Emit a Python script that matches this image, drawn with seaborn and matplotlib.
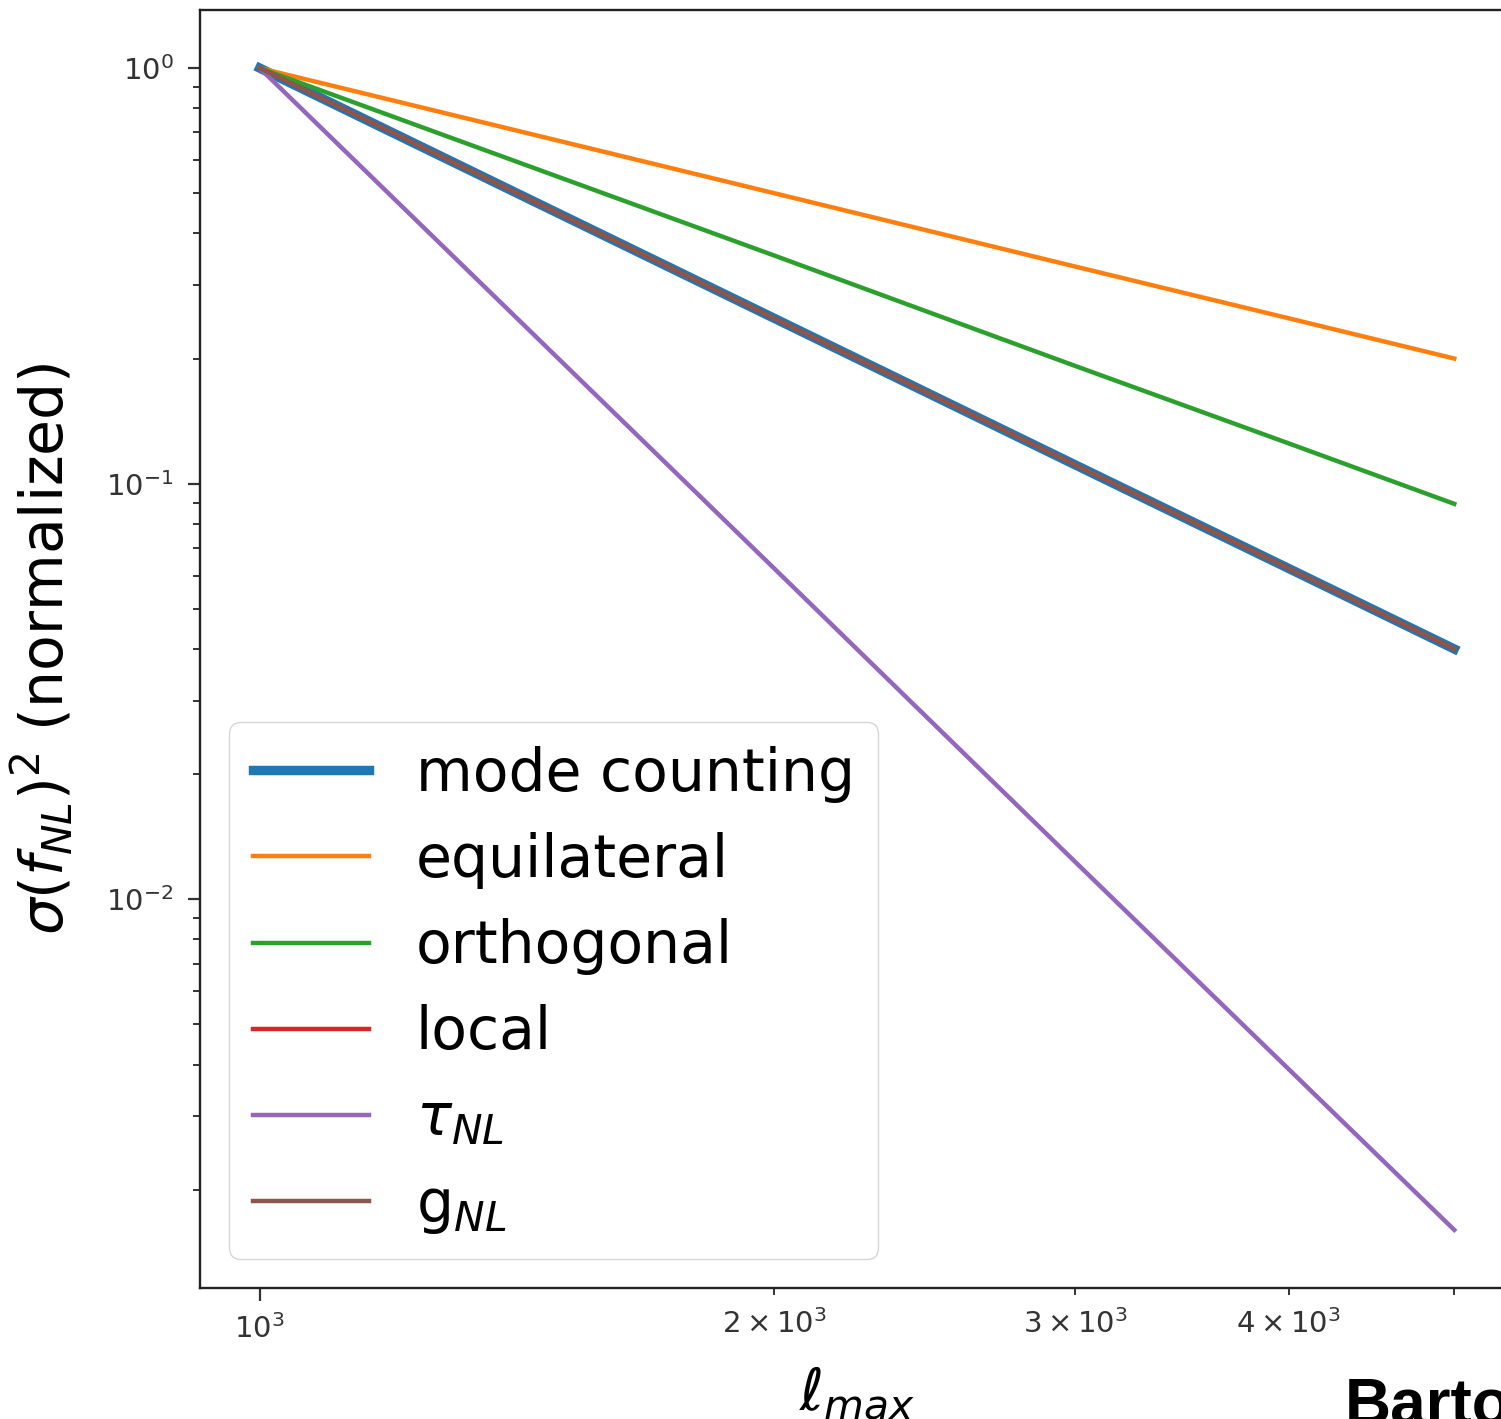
import matplotlib
matplotlib.use("Agg")
import matplotlib.pyplot as plt
import seaborn as sns
import numpy as np
import pandas as pd

# ---- data ----
ell_max = [1000, 2000, 3000, 4000, 5000]
mode_counting = [1.0, 0.25, 0.111, 0.0625, 0.040]
equilateral = [1.0, 0.50, 0.333, 0.250, 0.200]
orthogonal = [1.0, 0.354, 0.192, 0.125, 0.0894]
local = [1.0, 0.25, 0.111, 0.0625, 0.040]
tau_nl = [1.0, 0.0625, 0.0123, 0.0039, 0.0016]
g_nl = [1.0, 0.25, 0.111, 0.0625, 0.040]

series_names = ["mode counting", "equilateral", "orthogonal", "local",
                r"$\tau_{NL}$", r"g$_{NL}$"]
series_values = [mode_counting, equilateral, orthogonal, local, tau_nl, g_nl]
colors = ["#1f77b4", "#ff7f0e", "#2ca02c", "#d62728", "#9467bd", "#8c564b"]
widths = [6.8, 3.2, 3.2, 3.2, 3.2, 3.2]

W, H = 1501, 1419
fig = plt.figure(figsize=(W / 100, H / 100), dpi=100)
ax = fig.add_axes([200 / W, 1 - 1288 / H, (1514 - 200) / W, (1288 - 10) / H])

for name, vals, c, lw in zip(series_names, series_values, colors, widths):
    df = pd.DataFrame({"ell": ell_max, "sigma": vals})
    sns.lineplot(data=df, x="ell", y="sigma", ax=ax, color=c, linewidth=lw,
                 label=name, estimator=None, sort=False)

ax.set_xscale("log")
ax.set_yscale("log")
ax.margins(0.05)

for sp in ax.spines.values():
    sp.set_linewidth(1.7)
    sp.set_color("#222222")
ax.tick_params(which="major", length=9, width=1.6, labelsize=21, colors="#333333",
               labelcolor="#333333", pad=10)
ax.tick_params(which="minor", length=5, width=1.4, labelsize=21, colors="#333333",
               labelcolor="#333333", pad=10)

ax.set_xlabel(r"$\ell_{max}$", fontsize=42, labelpad=14)
ax.set_ylabel(r"$\sigma(f_{NL})^2$ (normalized)", fontsize=42, labelpad=22)

leg = ax.legend(loc="lower left", fontsize=42, handlelength=2.0,
                labelspacing=0.5, borderaxespad=0.5, framealpha=0.8)

fig.text(1345 / W, 1 - 1424 / H, "Barto", fontsize=46, fontweight="bold",
         family="Liberation Sans", color="black", va="baseline", ha="left")

fig.savefig("out.png", dpi=100)
